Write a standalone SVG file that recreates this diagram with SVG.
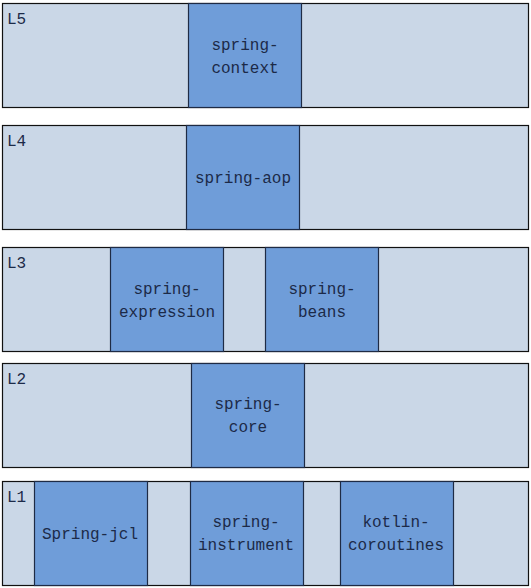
<svg xmlns="http://www.w3.org/2000/svg" width="531" height="588" viewBox="0 0 531 588">
<style>
.band{fill:#cad7e7;stroke:#111;stroke-width:1.2}
.box{fill:#6f9dd9;stroke:#1e2b45;stroke-width:1.2}
text{font-family:"Liberation Mono","DejaVu Sans Mono",monospace;font-size:16px;fill:#1c2a48}
.c{text-anchor:middle}
</style>
<rect width="531" height="588" fill="#fff"/>
<g id="L5">
<rect class="band" x="2.5" y="3.5" width="526" height="104"/>
<text x="7" y="24">L5</text>
<g id="spring-context"><rect class="box" x="188.5" y="3.5" width="113" height="104"/>
<text class="c" x="245" y="50">spring-</text><text class="c" x="245" y="73">context</text></g>
</g>
<g id="L4">
<rect class="band" x="2.5" y="125.5" width="526" height="104"/>
<text x="7" y="146">L4</text>
<g id="spring-aop"><rect class="box" x="186.5" y="125.5" width="113" height="104"/>
<text class="c" x="243" y="183">spring-aop</text></g>
</g>
<g id="L3">
<rect class="band" x="2.5" y="247.5" width="526" height="104"/>
<text x="7" y="268">L3</text>
<g id="spring-expression"><rect class="box" x="110.5" y="247.5" width="113" height="104"/>
<text class="c" x="167" y="294">spring-</text><text class="c" x="167" y="317">expression</text></g>
<g id="spring-beans"><rect class="box" x="265.5" y="247.5" width="113" height="104"/>
<text class="c" x="322" y="294">spring-</text><text class="c" x="322" y="317">beans</text></g>
</g>
<g id="L2">
<rect class="band" x="2.5" y="363.5" width="526" height="104"/>
<text x="7" y="384">L2</text>
<g id="spring-core"><rect class="box" x="191.5" y="363.5" width="113" height="104"/>
<text class="c" x="248" y="409">spring-</text><text class="c" x="248" y="432">core</text></g>
</g>
<g id="L1">
<rect class="band" x="2.5" y="481.5" width="526" height="104"/>
<text x="7" y="502">L1</text>
<g id="spring-jcl"><rect class="box" x="34.5" y="481.5" width="113" height="104"/>
<text class="c" x="90" y="539">Spring-jcl</text></g>
<g id="spring-instrument"><rect class="box" x="190.5" y="481.5" width="113" height="104"/>
<text class="c" x="246" y="527">spring-</text><text class="c" x="246" y="550">instrument</text></g>
<g id="kotlin-coroutines"><rect class="box" x="340.5" y="481.5" width="113" height="104"/>
<text class="c" x="396" y="527">kotlin-</text><text class="c" x="396" y="550">coroutines</text></g>
</g>
<g id="connectors"/>
</svg>
